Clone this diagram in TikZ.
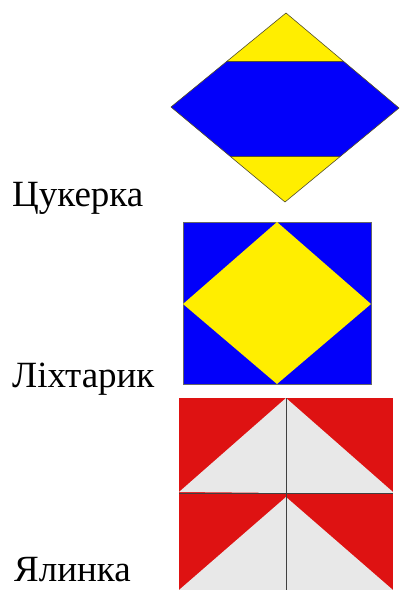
\documentclass[tikz,border=0pt]{standalone}
\usepackage{fontspec}
\setmainfont{Liberation Serif}
\definecolor{flagblue}{RGB}{2,0,250}
\definecolor{flagyellow}{RGB}{255,238,0}
\definecolor{tilered}{RGB}{222,18,18}
\definecolor{tilewhite}{RGB}{232,232,232}
\tikzset{
  labeltext/.style={anchor=base west, inner sep=0pt, font=\fontsize{37}{40}\selectfont},
  edge/.style={draw=black!55!olive, line width=0.8pt}
}
\begin{document}
\begin{tikzpicture}[x=1pt, y=-1pt]
    \useasboundingbox (0,0) rectangle (400,590);

    % candy
    \begin{scope}
        \coordinate (T) at (286,13);
        \coordinate (R) at (399,108);
        \coordinate (B) at (285,202);
        \coordinate (L) at (171,107);
        \fill[flagyellow] (T) -- (R) -- (B) -- (L) -- cycle;
        \begin{scope}
            \clip (T) -- (R) -- (B) -- (L) -- cycle;
            \fill[flagblue] (160,61) rectangle (410,156);
            \draw[edge] (160,61) -- (410,61);
            \draw[edge] (160,156) -- (410,156);
        \end{scope}
        \draw[edge, line width=0.6pt] (T) -- (R) -- (B) -- (L) -- cycle;
        \node[labeltext] (candy) at (12,206) {Цукерка};
    \end{scope}

    % lantern
    \begin{scope}
        \draw[fill=flagblue, draw=black!60] (183,222) rectangle (371,384);
        \fill[flagyellow] (277,222) -- (371,304) -- (277,384) -- (183,304) -- cycle;
        \node[labeltext] (lantern) at (12,387) {Ліхтарик};
    \end{scope}

    % fir tree
    \begin{scope}
        \fill[tilered] (179,398) rectangle (393,590);
        \fill[tilewhite] (179,492) -- (286,398) -- (286,493) -- cycle;
        \fill[tilewhite] (286,398) -- (393,492) -- (393,493) -- (286,493) -- cycle;
        \fill[tilewhite] (179,590) -- (286,497) -- (286,590) -- cycle;
        \fill[tilewhite] (286,497) -- (393,590) -- (286,590) -- cycle;
        \draw[black!75, line width=1pt] (179,493.5) -- (393,493.5);
        \draw[black!75, line width=1pt] (286,398) -- (286,590);
        \node[labeltext] (firtree) at (14,581) {Ялинка};
    \end{scope}
\end{tikzpicture}
\end{document}
